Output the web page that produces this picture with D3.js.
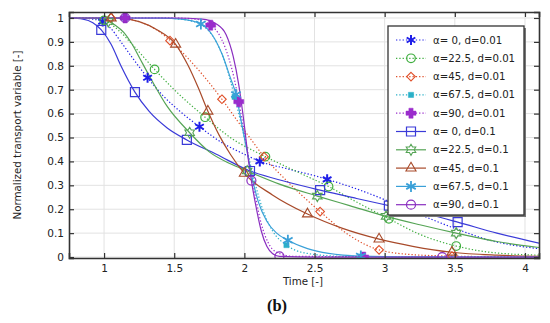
<!DOCTYPE html>
<html lang="en">
<head>
<meta charset="UTF-8">
<title>Normalized transport variable</title>
<script src="https://d3js.org/d3.v7.min.js"></script>
<style>
  body { margin: 0; background: #fff; }
  svg { display: block; font-family: "DejaVu Sans", sans-serif; }
</style>
</head>
<body>
<svg id="chart" width="550" height="323"></svg>
<script>
// axis ticks
const xTicks = [1, 1.5, 2, 2.5, 3, 3.5, 4];
const yTicks = [0, 0.1, 0.2, 0.3, 0.4, 0.5, 0.6, 0.7, 0.8, 0.9, 1];

const labels = ["α= 0, d=0.01", "α=22.5, d=0.01", "α=45, d=0.01", "α=67.5, d=0.01", "α=90, d=0.01",
                "α= 0, d=0.1", "α=22.5, d=0.1", "α=45, d=0.1", "α=67.5, d=0.1", "α=90, d=0.1"];

// curves, [time, value]
const a0d001 = [[0.75,1],[0.85,0.999],[0.92,0.995],[0.99,0.985],[1.05,0.955],[1.12,0.9],[1.2,0.835],[1.31,0.75],[1.42,0.675],[1.55,0.605],[1.68,0.545],[1.85,0.475],[2.0,0.43],[2.11,0.4],[2.3,0.37],[2.47,0.345],[2.59,0.325],[2.8,0.285],[3.0,0.24],[3.2,0.19],[3.5,0.12],[3.75,0.07],[4.1,0.035]];
const a0d001Marks = [[0.99,0.985],[1.31,0.75],[1.68,0.545],[2.11,0.4],[2.59,0.325],[3.1,0.215]];

const a22d001 = [[0.75,1],[0.9,0.999],[1.0,0.99],[1.1,0.95],[1.2,0.89],[1.36,0.785],[1.5,0.7],[1.72,0.585],[1.9,0.5],[2.15,0.42],[2.4,0.35],[2.6,0.295],[2.8,0.23],[3.03,0.16],[3.25,0.095],[3.51,0.046],[3.75,0.02],[4.1,0.008]];
const a22d001Marks = [[1.0,0.99],[1.36,0.785],[1.72,0.585],[2.15,0.42],[2.6,0.295],[3.03,0.16],[3.51,0.046]];

const a45d001 = [[0.75,1],[1.1,0.999],[1.25,0.985],[1.4,0.94],[1.5,0.89],[1.6,0.83],[1.72,0.75],[1.84,0.66],[1.95,0.57],[2.05,0.49],[2.14,0.42],[2.3,0.32],[2.54,0.19],[2.75,0.09],[2.96,0.03],[3.2,0.01],[3.48,0.004],[4.1,0]];
const a45d001Marks = [[1.05,1.0],[1.47,0.905],[1.84,0.66],[2.14,0.42],[2.54,0.19],[2.96,0.03],[3.48,0.004]];

const a67d001 = [[0.75,1],[1.4,1.0],[1.6,0.99],[1.72,0.96],[1.8,0.9],[1.87,0.8],[1.93,0.67],[1.98,0.55],[2.03,0.42],[2.08,0.3],[2.13,0.2],[2.2,0.11],[2.3,0.05],[2.45,0.015],[2.7,0.003],[4.1,0]];
const a67d001Marks = [[1.15,1.0],[1.93,0.67],[2.3,0.05],[2.83,0.002]];

const a90d001 = [[0.75,1],[1.5,1.0],[1.65,0.995],[1.76,0.97],[1.83,0.92],[1.89,0.83],[1.93,0.74],[1.96,0.65],[2.0,0.52],[2.04,0.38],[2.08,0.25],[2.12,0.14],[2.17,0.06],[2.23,0.02],[2.35,0.003],[4.1,0]];
const a90d001Marks = [[1.15,1.0],[1.76,0.97],[1.96,0.65],[2.85,0.0]];

const a0d01 = [[0.75,1],[0.85,0.995],[0.92,0.98],[0.98,0.95],[1.05,0.89],[1.12,0.8],[1.22,0.69],[1.32,0.61],[1.45,0.54],[1.59,0.49],[1.8,0.43],[2.04,0.36],[2.3,0.315],[2.54,0.28],[2.8,0.245],[3.03,0.215],[3.3,0.18],[3.52,0.146],[3.8,0.1],[4.1,0.058]];
const a0d01Marks = [[0.98,0.95],[1.22,0.69],[1.59,0.49],[2.04,0.36],[2.54,0.28],[3.03,0.215],[3.52,0.146]];

const a22d01 = [[0.75,1],[0.95,0.998],[1.02,0.99],[1.08,0.97],[1.14,0.94],[1.2,0.89],[1.26,0.825],[1.33,0.75],[1.45,0.63],[1.61,0.52],[1.75,0.44],[1.9,0.39],[2.02,0.36],[2.25,0.305],[2.52,0.255],[2.75,0.215],[3.01,0.17],[3.25,0.135],[3.51,0.1],[3.8,0.065],[4.1,0.04]];
const a22d01Marks = [[1.03,0.985],[1.61,0.52],[2.02,0.36],[2.52,0.255],[3.01,0.17],[3.51,0.1]];

const a45d01 = [[0.75,1],[1.1,0.999],[1.25,0.985],[1.38,0.95],[1.51,0.89],[1.6,0.8],[1.67,0.71],[1.74,0.61],[1.82,0.51],[1.9,0.43],[2.0,0.35],[2.2,0.26],[2.45,0.18],[2.7,0.12],[2.96,0.075],[3.2,0.045],[3.48,0.02],[3.8,0.008],[4.1,0.003]];
const a45d01Marks = [[1.05,1.0],[1.51,0.89],[1.74,0.61],[2.0,0.35],[2.45,0.18],[2.96,0.075],[3.48,0.02]];

const a67d01 = [[0.75,1],[1.4,0.999],[1.55,0.995],[1.69,0.975],[1.77,0.93],[1.84,0.85],[1.9,0.75],[1.94,0.68],[1.98,0.56],[2.02,0.44],[2.06,0.32],[2.1,0.23],[2.16,0.15],[2.23,0.1],[2.31,0.07],[2.45,0.035],[2.6,0.015],[2.83,0.004],[3.2,0.001],[4.1,0]];
const a67d01Marks = [[1.69,0.975],[1.94,0.68],[2.31,0.07],[2.83,0.004]];

const a90d01 = [[0.75,1],[1.5,1.0],[1.7,0.995],[1.8,0.975],[1.87,0.93],[1.92,0.84],[1.96,0.72],[2.0,0.55],[2.03,0.4],[2.05,0.32],[2.08,0.22],[2.12,0.11],[2.16,0.045],[2.2,0.015],[2.25,0.003],[2.5,0],[4.1,0]];
const a90d01Marks = [[1.15,1.0],[2.05,0.32],[2.25,0.003],[3.41,0]];

// styling per series
const series = [
  {line: a0d001,  marks: a0d001Marks,  color: "#1f1fe8", dotted: true,  sym: "asterisk", r: 5,   sw: 2,   fill: false},
  {line: a22d001, marks: a22d001Marks, color: "#3fae3f", dotted: true,  sym: "circle",   r: 4.3, sw: 1.2, fill: false},
  {line: a45d001, marks: a45d001Marks, color: "#e0502a", dotted: true,  sym: "diamond",  r: 4.3, sw: 1.1, fill: false},
  {line: a67d001, marks: a67d001Marks, color: "#2ab0c8", dotted: true,  sym: "square",   r: 2.6, sw: 0.5, fill: true},
  {line: a90d001, marks: a90d001Marks, color: "#9a2ccc", dotted: true,  sym: "plus",     r: 5,   sw: 0.5, fill: true},
  {line: a0d01,   marks: a0d01Marks,   color: "#3a3ad8", dotted: false, sym: "square",   r: 4.5, sw: 1.2, fill: false},
  {line: a22d01,  marks: a22d01Marks,  color: "#55a455", dotted: false, sym: "hexagram", r: 5.5, sw: 1.1, fill: false},
  {line: a45d01,  marks: a45d01Marks,  color: "#a84a2a", dotted: false, sym: "triangle", r: 5.8, sw: 1.1, fill: false},
  {line: a67d01,  marks: a67d01Marks,  color: "#3aa0d8", dotted: false, sym: "asterisk", r: 5.5, sw: 1.8, fill: false},
  {line: a90d01,  marks: a90d01Marks,  color: "#8a2ec0", dotted: false, sym: "circle",   r: 4.5, sw: 1.2, fill: false}
];

const pLeft = 69, pRight = 539, pTop = 12, pBottom = 258;

const x = d3.scaleLinear().domain([0.75, 4.1]).range([pLeft, pRight]);
const y = d3.scaleLinear().domain([-0.004, 1.025]).range([pBottom, pTop]);

function symPath(type, r) {
  let p = "";
  switch (type) {
    case "asterisk":
      for (let k = 0; k < 3; k++) {
        const a = Math.PI / 2 + k * Math.PI / 3;
        const dx = r * Math.cos(a), dy = r * Math.sin(a);
        p += `M${-dx},${-dy}L${dx},${dy}`;
      }
      return p;
    case "circle":
      return `M${r},0A${r},${r} 0 1,1 ${-r},0A${r},${r} 0 1,1 ${r},0Z`;
    case "square":
      return `M${-r},${-r}H${r}V${r}H${-r}Z`;
    case "diamond":
      return `M0,${-r}L${r},0L0,${r}L${-r},0Z`;
    case "triangle":
      return `M0,${-r}L${r * 0.87},${r * 0.5}L${-r * 0.87},${r * 0.5}Z`;
    case "plus": {
      const w = r * 0.42;
      return `M${-w},${-r}H${w}V${-w}H${r}V${w}H${w}V${r}H${-w}V${w}H${-r}V${-w}H${-w}Z`;
    }
    case "hexagram": {
      const pts = [];
      for (let k = 0; k < 12; k++) {
        const a = -Math.PI / 2 + k * Math.PI / 6;
        const rr = k % 2 === 0 ? r : r / Math.sqrt(3);
        pts.push([rr * Math.cos(a), rr * Math.sin(a)]);
      }
      return "M" + pts.map(q => q.join(",")).join("L") + "Z";
    }
  }
  return p;
}

const svg = d3.select("#chart");

svg.append("defs").append("clipPath").attr("id", "plotClip")
  .append("rect").attr("x", pLeft).attr("y", pTop)
  .attr("width", pRight - pLeft).attr("height", pBottom - pTop);

// grid
const grid = svg.append("g").attr("stroke", "#e2e2e2").attr("stroke-width", 1);
grid.selectAll(".gx").data(xTicks).join("line")
  .attr("x1", d => x(d)).attr("x2", d => x(d))
  .attr("y1", pTop).attr("y2", pBottom);
grid.selectAll(".gy").data(yTicks).join("line")
  .attr("x1", pLeft).attr("x2", pRight)
  .attr("y1", d => y(d)).attr("y2", d => y(d));

// curves
const line = d3.line()
  .x(d => x(d[0]))
  .y(d => y(d[1]))
  .curve(d3.curveMonotoneX);

const plot = svg.append("g").attr("clip-path", "url(#plotClip)");

plot.selectAll("path.curve")
  .data(series)
  .join("path")
  .attr("class", "curve")
  .attr("fill", "none")
  .attr("stroke", d => d.color)
  .attr("stroke-width", 1.2)
  .attr("stroke-dasharray", d => d.dotted ? "1.3,2" : null)
  .attr("d", d => line(d.line));

// markers
series.forEach(s => {
  plot.append("g")
    .selectAll("path")
    .data(s.marks)
    .join("path")
    .attr("transform", d => `translate(${x(d[0])},${y(d[1])})`)
    .attr("d", symPath(s.sym, s.r))
    .attr("fill", s.fill ? s.color : "none")
    .attr("stroke", s.color)
    .attr("stroke-width", s.sw);
});

// axes with inward ticks
const axisColor = "#333";
const gB = svg.append("g").attr("transform", `translate(0,${pBottom})`)
  .call(d3.axisBottom(x).tickValues(xTicks).tickSize(-5).tickPadding(7).tickFormat(d3.format("")));
const gT = svg.append("g").attr("transform", `translate(0,${pTop})`)
  .call(d3.axisTop(x).tickValues(xTicks).tickSize(-5).tickFormat(""));
const gL = svg.append("g").attr("transform", `translate(${pLeft},0)`)
  .call(d3.axisLeft(y).tickValues(yTicks).tickSize(-5).tickPadding(5).tickFormat(d3.format("")));
const gR = svg.append("g").attr("transform", `translate(${pRight},0)`)
  .call(d3.axisRight(y).tickValues(yTicks).tickSize(-5).tickFormat(""));

[gB, gT, gL, gR].forEach(g => {
  g.select(".domain").attr("stroke", axisColor).attr("stroke-width", 1.6);
  g.selectAll(".tick line").attr("stroke", axisColor).attr("stroke-width", 1.2);
  g.selectAll(".tick text").attr("fill", "#222")
    .style("font-family", "DejaVu Sans, sans-serif").style("font-size", "10.5px");
});

// axis titles
svg.append("text")
  .attr("x", 303).attr("y", 285)
  .attr("text-anchor", "middle")
  .attr("font-size", 10.3).attr("fill", "#222")
  .text("Time [-]");

svg.append("text")
  .attr("transform", `translate(21,${(pTop + pBottom) / 2}) rotate(-90)`)
  .attr("text-anchor", "middle")
  .attr("font-size", 10.3).attr("fill", "#222")
  .text("Normalized transport variable [-]");

svg.append("text")
  .attr("x", 277).attr("y", 311)
  .attr("text-anchor", "middle")
  .style("font-family", "Liberation Serif, serif")
  .attr("font-weight", "bold")
  .attr("font-size", 16.5).attr("fill", "#111")
  .text("(b)");

// legend
const lg = svg.append("g").attr("transform", "translate(388,26)");
lg.append("rect").attr("x", 2).attr("y", 2).attr("width", 136).attr("height", 189).attr("fill", "#777");
lg.append("rect").attr("width", 136).attr("height", 189)
  .attr("fill", "#fff").attr("stroke", "#333").attr("stroke-width", 1.3);

const items = lg.selectAll("g.item")
  .data(series)
  .join("g")
  .attr("class", "item")
  .attr("transform", (d, i) => `translate(0,${14 + i * 18.3})`);

items.append("line")
  .attr("x1", 8).attr("x2", 38)
  .attr("stroke", d => d.color).attr("stroke-width", 1.2)
  .attr("stroke-dasharray", d => d.dotted ? "1.3,2" : null);

items.append("path")
  .attr("transform", "translate(23,0)")
  .attr("d", d => symPath(d.sym, d.r))
  .attr("fill", d => d.fill ? d.color : "none")
  .attr("stroke", d => d.color)
  .attr("stroke-width", d => d.sw);

items.append("text")
  .attr("x", 45).attr("dy", "0.35em")
  .attr("font-size", 10.2).attr("fill", "#222")
  .style("white-space", "pre")
  .text((d, i) => labels[i]);
</script>
</body>
</html>
